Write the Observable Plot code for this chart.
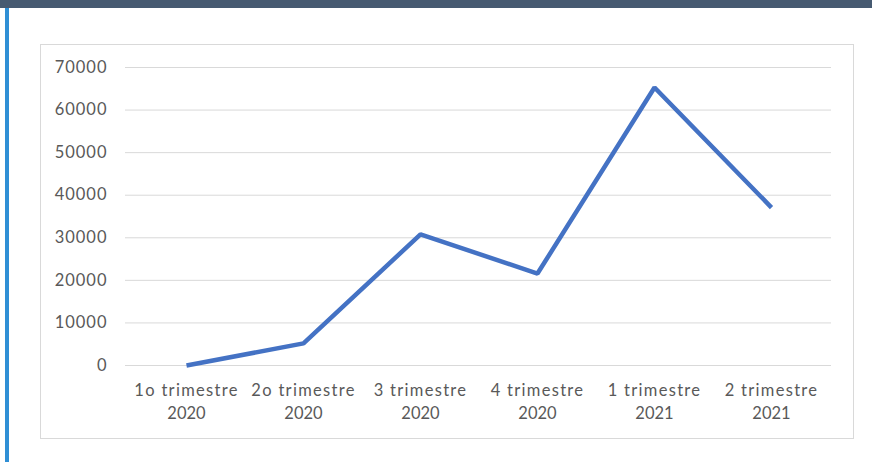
<!DOCTYPE html>
<html>
<head>
<meta charset="utf-8">
<script src="https://cdn.jsdelivr.net/npm/d3@7"></script>
<script src="https://cdn.jsdelivr.net/npm/@observablehq/plot@0.6"></script>
<style>
  html, body { margin: 0; padding: 0; background: #fff; width: 872px; height: 462px; overflow: hidden; }
  #topbar { position: absolute; left: 0; top: 0; width: 872px; height: 8px; background: #465a71; }
  #leftbar { position: absolute; left: 5px; top: 8px; width: 4px; height: 454px; background: #2f8fd5; }
  #box { position: absolute; left: 40px; top: 44px; width: 812px; height: 393px; border: 1px solid #d9d9d9; }
  #chart { position: absolute; left: 0; top: 0; }
  #chart g[aria-label="x-axis tick label"] tspan:first-child { letter-spacing: 1.3px; }
  #chart g[aria-label="y-axis tick label"] text { letter-spacing: 1px; }
</style>
</head>
<body>
<div id="topbar"></div>
<div id="leftbar"></div>
<div id="box"></div>
<div id="chart"></div>
<script>
const categories = ["1o trimestre\n2020", "2o trimestre\n2020", "3 trimestre\n2020", "4 trimestre\n2020", "1 trimestre\n2021", "2 trimestre\n2021"];
const values = [0, 5200, 30800, 21600, 65300, 37100];
const yTicks = [0, 10000, 20000, 30000, 40000, 50000, 60000, 70000];

const data = categories.map((c, i) => ({cat: c, val: values[i]}));

const plot = Plot.plot({
  width: 872,
  height: 462,
  marginLeft: 125,
  marginRight: 41,
  marginTop: 67,
  marginBottom: 97,
  style: {fontFamily: "Lato, 'Open Sans', sans-serif", fontSize: "16.5px", color: "#595959", background: "transparent"},
  x: {type: "point", domain: categories, padding: 0.5, label: null},
  y: {domain: [0, 70000], label: null},
  marks: [
    Plot.ruleY(yTicks, {stroke: "#d9d9d9", strokeWidth: 1, strokeOpacity: 1}),
    Plot.axisY(yTicks, {tickSize: 0, tickPadding: 18, label: null, tickFormat: d => String(d), fill: "#595959"}),
    Plot.axisX({tickSize: 0, tickPadding: 14, label: null, lineHeight: 1.4, fill: "#595959"}),
    Plot.line(data, {x: "cat", y: "val", stroke: "#4472c4", strokeWidth: 4.5, strokeLinejoin: "miter", strokeLinecap: "butt"})
  ]
});
document.getElementById("chart").appendChild(plot);
</script>
</body>
</html>
